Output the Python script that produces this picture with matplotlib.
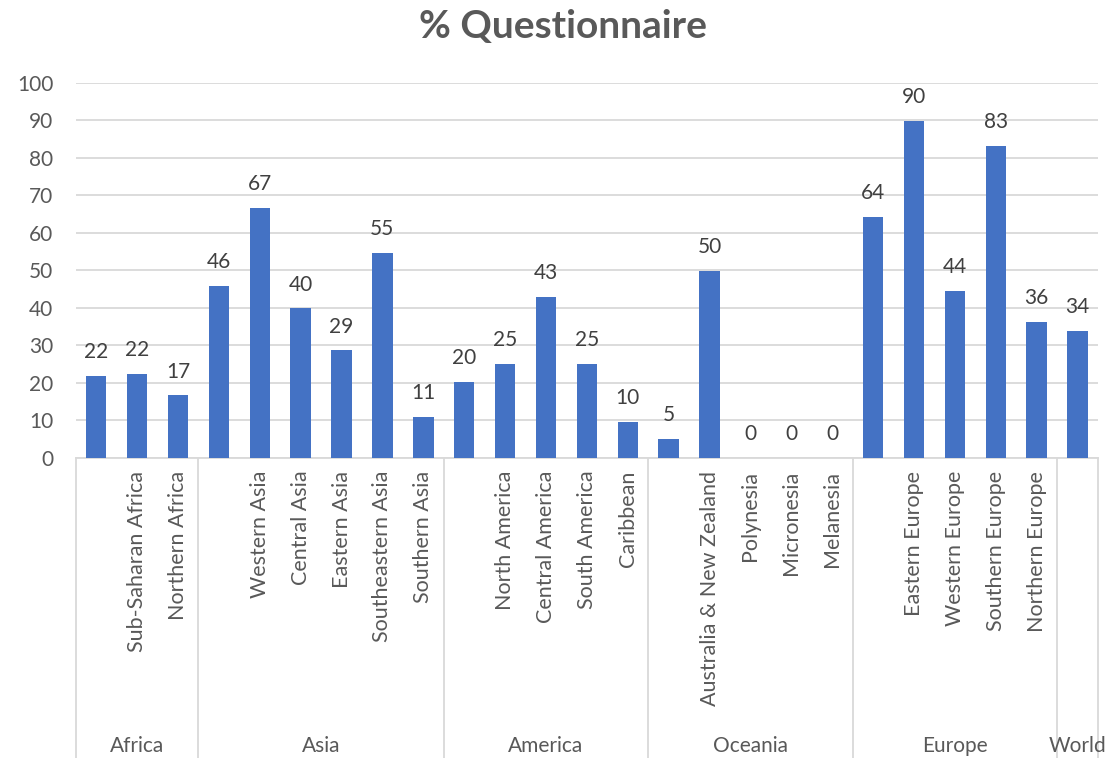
import matplotlib
matplotlib.use("Agg")
import matplotlib.pyplot as plt
import matplotlib.transforms as mtransforms
import numpy as np

plt.rcParams['font.family'] = ['Lato', 'DejaVu Sans']

# groups and their sub-regions (first entry of each group is the group total, no label)
groups = ["Africa", "Asia", "America", "Oceania", "Europe", "World"]
group_sizes = [3, 6, 5, 5, 5, 1]
categories = ["", "Sub-Saharan Africa", "Northern Africa",
              "", "Western Asia", "Central Asia", "Eastern Asia", "Southeastern Asia", "Southern Asia",
              "", "North America", "Central America", "South America", "Caribbean",
              "", "Australia & New Zealand", "Polynesia", "Micronesia", "Melanesia",
              "", "Eastern Europe", "Western Europe", "Southern Europe", "Northern Europe",
              ""]
values = [21.7, 22.4, 16.6,
          45.9, 66.6, 39.8, 28.6, 54.6, 10.9,
          20.3, 24.9, 42.8, 25.0, 9.6,
          4.9, 49.8, 0, 0, 0,
          64.1, 89.9, 44.4, 83.2, 36.2,
          33.9]

blue = "#4472C4"
grid_col = "#D9D9D9"
txt_col = "#595959"
lab_col = "#404040"

fig = plt.figure(figsize=(11.07, 7.58), dpi=100)
ax = fig.add_axes([0.0684, 0.3962, 0.9235, 0.4947])

x = np.arange(len(values))
bars = ax.bar(x, values, width=0.5, color=blue, zorder=3)
ax.bar_label(bars, labels=["{:.0f}".format(v) for v in values],
             padding=10, fontsize=15, color=lab_col)

ax.set_xlim(-0.5, len(values) - 0.5)
ax.set_ylim(0, 100)
ax.set_yticks(np.arange(0, 101, 10))
ax.yaxis.grid(True, color=grid_col, linewidth=1.3, zorder=0)
ax.set_axisbelow(True)
for s in ["top", "right", "left"]:
    ax.spines[s].set_visible(False)
ax.spines["bottom"].set_color(grid_col)
ax.spines["bottom"].set_linewidth(1.3)
ax.tick_params(axis="y", length=0, pad=16, labelsize=15, labelcolor=txt_col)
ax.set_xticks([])

# multi-level category axis
trans = mtransforms.blended_transform_factory(ax.transData, ax.transAxes)
for xi, name in zip(x, categories):
    ax.text(xi, -0.035, name, rotation=90, ha="center", va="top",
            fontsize=15.5, color=txt_col, transform=trans)

edges = np.concatenate([[0], np.cumsum(group_sizes)]) - 0.5
for e in edges:
    ax.plot([e, e], [0, -0.81], color=grid_col, linewidth=1.3,
            transform=trans, clip_on=False)
for g, a, b in zip(groups, edges[:-1], edges[1:]):
    ax.text((a + b) / 2, -0.768, g, ha="center", va="center",
            fontsize=15, color=txt_col, transform=trans)

fig.text(0.5086, 0.965, "% Questionnaire", ha="center", va="center",
         fontsize=28, fontweight="bold", color=txt_col)

fig.savefig("out.png", dpi=100)
